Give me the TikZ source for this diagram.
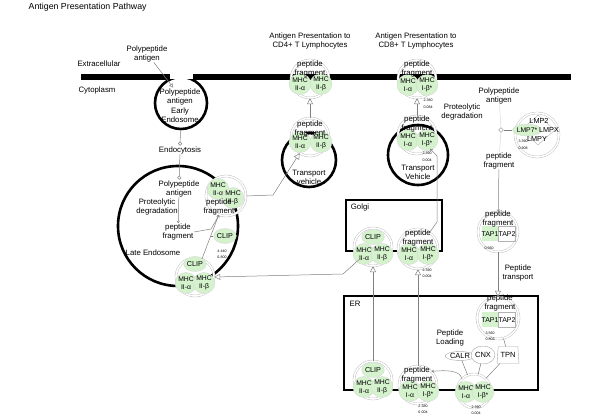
\documentclass[tikz,border=0pt]{standalone}
\usepackage{fontspec}
\setmainfont{Liberation Sans}
\usepackage{tikz}
\usetikzlibrary{arrows.meta}
\usetikzlibrary{shapes.geometric}
\definecolor{genegreen}{RGB}{212,242,204}

\begin{document}
\begin{tikzpicture}[x=1pt, y=-1pt,
    lbl/.style={align=center, font=\fontsize{7.8}{9}\selectfont, inner sep=0.5pt},
    num/.style={align=center, font=\fontsize{3.6}{6.5}\selectfont, inner sep=0pt},
    wall/.style={line width=2.6pt},
    cplx/.style={circle, draw=gray!55, double, double distance=1.6pt, inner sep=0pt, minimum size=#1},
    cplx/.default=38pt,
    gene/.style={ellipse, fill=genegreen, draw=gray!30, inner sep=0pt, minimum width=13pt, minimum height=21pt, align=center, font=\fontsize{6.8}{8}\selectfont},
    clipg/.style={ellipse, fill=genegreen, draw=gray!30, inner sep=0pt, minimum width=15pt, minimum height=15pt, font=\fontsize{7.2}{8}\selectfont},
    tapg/.style={rectangle, inner sep=0pt, minimum width=17pt, minimum height=15pt, font=\fontsize{7}{8}\selectfont},
    prot/.style={ellipse, draw=gray!70, fill=white, inner sep=0.5pt, font=\fontsize{7.5}{8}\selectfont},
    conn/.style={draw=gray, line width=0.5pt},
    tri/.style={conn, -{Triangle[open, length=6pt, width=6pt]}},
    tip/.style={conn, -{To[length=2.5pt, width=3pt]}}]

    \useasboundingbox (0,0) rectangle (600,419);

    \node[lbl, anchor=west, font=\fontsize{8.8}{10}\selectfont] (title) at (28, 7) {Antigen Presentation Pathway};

    % membrane and compartments
    \draw[line width=5.5pt] (81,77) -- (170,77);
    \draw[line width=5.5pt] (193,77) -- (571,77);
    \begin{scope}
      \clip (140,80) rectangle (230,140);
      \node[circle, draw, wall, inner sep=0pt, minimum size=52pt] (ee) at (181, 103) {};
    \end{scope}
    \node[circle, draw, wall, inner sep=0pt, minimum size=120pt] (le)  at (178, 226) {};
    \node[circle, draw, wall, inner sep=0pt, minimum size=54pt]  (tv1) at (309, 160) {};
    \node[circle, draw, wall, inner sep=0pt, minimum size=60pt]  (tv2) at (418, 155) {};
    \draw[wall] (346,200) rectangle (442,251);
    \draw[wall] (344,296) rectangle (538,390);

    \node[lbl]   (ext)    at (99, 64)      {Extracellular};
    \node[lbl]   (cyto)   at (97, 90)      {Cytoplasm};
    \node[lbl]   (ppa0)   at (147, 53.5)   {Polypeptide\\antigen};
    \node[lbl]   (ppa1)   at (180, 96.5)   {Polypeptide\\antigen};
    \node[lbl]   (eelbl)  at (180, 115)    {Early\\Endosome};
    \node[lbl]   (endo)   at (180, 150)    {Endocytosis};
    \node[lbl]   (ppa2)   at (179, 188.5)  {Polypeptide\\antigen};
    \node[lbl]   (prot1)  at (157, 206.5)  {Proteolytic\\degradation};
    \node[lbl]   (pf1)    at (178, 232)    {peptide\\fragment};
    \node[lbl]   (lelbl)  at (153, 253)    {Late Endosome};
    \node[clipg] (clip1)  at (225, 236)    {CLIP};
    \node[num]            at (222, 254.5)  {4.440\\0.800};
    \node[lbl]   (tvlbl1) at (309, 177)    {Transport\\vehicle};
    \node[lbl]   (tvlbl2) at (418, 172)    {Transport\\Vehicle};
    \node[lbl]   (cd4lbl) at (310, 41)     {Antigen Presentation to\\CD4+ T Lymphocytes};
    \node[lbl]   (cd8lbl) at (416, 41)     {Antigen Presentation to\\CD8+ T Lymphocytes};
    \node[lbl]   (golgi)  at (360, 207)    {Golgi};
    \node[lbl]   (erlbl)  at (355, 304)    {ER};
    \node[lbl]   (ppa3)   at (499, 95.5)   {Polypeptide\\antigen};
    \node[lbl]   (prot2)  at (462, 112)    {Proteolytic\\degradation};
    \node[lbl]   (pf2)    at (499, 160.5)  {peptide\\fragment};
    \node[lbl]   (trlbl)  at (518, 273)    {Peptide\\transport};
    \node[lbl]   (pl)     at (450, 338)    {Peptide\\Loading};

    % complexes
    \node[cplx=40pt] (cx1)  at (226, 196) {};
    \node[gene] at (218, 189) {MHC\\II-α};
    \node[gene] at (233, 198) {MHC\\II-β};
    \node[lbl]  at (219, 207) {peptide\\fragment};

    \node[cplx] (cx2)  at (195, 277) {};
    \node[clipg] at (195, 264) {CLIP};
    \node[gene] at (186, 283) {MHC\\II-α};
    \node[gene] at (204, 283) {MHC\\II-β};

    \node[cplx] (cx3)  at (310, 137) {};
    \node[gene] at (300, 142) {MHC\\II-α};
    \node[gene] at (321, 142) {MHC\\II-β};
    \node[lbl]  at (310, 129) {peptide\\fragment};

    \node[cplx] (cx4)  at (310, 79) {};
    \node[gene] at (300, 84) {MHC\\II-α};
    \node[gene] at (321, 84) {MHC\\II-β};
    \node[lbl]  at (310, 68.5) {peptide\\fragment};

    \node[cplx] (cx5)  at (417, 79) {};
    \node[gene] at (408, 85) {MHC\\I-α};
    \node[gene] at (427, 85) {MHC\\I-β*};
    \node[lbl]  at (417, 68.5) {peptide\\fragment};
    \node[num]  at (428, 104) {2.380\\0.084};

    \node[cplx] (cx6)  at (417, 135) {};
    \node[gene] at (408, 140) {MHC\\I-α};
    \node[gene] at (427, 140) {MHC\\I-β*};
    \node[lbl]  at (417, 124) {peptide\\fragment};
    \node[num]  at (427, 157) {2.390\\0.004};

    \node[cplx] (cx7)  at (373, 247) {};
    \node[clipg] at (373, 237) {CLIP};
    \node[gene] at (364, 254) {MHC\\II-α};
    \node[gene] at (382, 254) {MHC\\II-β};

    \node[cplx=40pt] (cx8)  at (418, 249) {};
    \node[gene] at (409, 254) {MHC\\I-α};
    \node[gene] at (428, 254) {MHC\\I-β*};
    \node[lbl]  at (418, 237.5) {peptide\\fragment};
    \node[num]  at (427, 273.5) {2.390\\0.004};

    \node[cplx] (cx9)  at (373, 380) {};
    \node[clipg] at (373, 370) {CLIP};
    \node[gene] at (364, 387) {MHC\\II-α};
    \node[gene] at (382, 387) {MHC\\II-β};

    \node[cplx] (cx10) at (418, 385) {};
    \node[gene] at (410, 391) {MHC\\I-α};
    \node[gene] at (428, 391) {MHC\\I-β*};
    \node[lbl]  at (417, 374.5) {peptide\\fragment};
    \node[num]  at (423, 409.5) {2.380\\0.004};

    \node[cplx=34pt] (cx11) at (474, 391) {};
    \node[gene] at (466, 392) {MHC\\I-α};
    \node[gene] at (483, 392) {MHC\\I-β*};
    \node[num]  at (476, 410.5) {2.390\\0.004};

    \node[cplx=42pt] (cx12) at (498, 318) {};
    \node[tapg, fill=genegreen] at (490, 320) {TAP1};
    \node[tapg, draw=gray!60]   at (507, 320) {TAP2};
    \node[lbl]  at (500, 302.5) {peptide\\fragment};
    \node[num]  at (490, 336.5) {3.560\\0.803};

    \node[cplx=40pt] (cx13) at (498, 232) {};
    \node[tapg, fill=genegreen] at (490, 234) {TAP1};
    \node[tapg, draw=gray!60]   at (507, 234) {TAP2};
    \node[lbl]  at (498, 218.5) {peptide\\fragment};
    \node[num]  at (489, 248) {0.560};

    \node[cplx=44pt] (cx14) at (537, 135) {};
    \node[diamond, draw=gray!60, inner sep=0pt, minimum width=34pt, minimum height=30pt] at (538, 130) {};
    \node[gene, minimum width=15pt, minimum height=12pt] (lmp7) at (527, 130) {LMP7*};
    \node[lbl, font=\fontsize{7.3}{8}\selectfont]  at (539, 121) {LMP2};
    \node[lbl, font=\fontsize{7.3}{8}\selectfont]  at (549, 130) {LMPX};
    \node[lbl, font=\fontsize{7.3}{8}\selectfont]  at (537, 139) {LMPY};
    \node[num]  at (523, 145) {3.390\\0.908};

    \node[diamond, draw=gray, fill=white, inner sep=0pt, minimum size=5pt] (dmd) at (501, 130) {};

    % ER chaperones
    \node[prot, minimum width=24pt] (calr) at (460, 356) {CALR};
    \node[prot, minimum height=18pt] (cnx) at (483, 355) {CNX};
    \node[trapezium, trapezium stretches=true, draw=gray!70, inner sep=0pt, minimum width=22pt, minimum height=17pt, trapezium left angle=80, trapezium right angle=80, font=\fontsize{7.5}{8}\selectfont] (tpn) at (508, 355) {TPN};

    % connectors
    \draw[conn, -{Triangle[open, length=4pt, width=4pt]}] (ppa0) -- (ppa1);
    \draw[conn, -{Circle[open, length=4pt]}] (ee) -- (endo);
    \draw[conn, -{Circle[open, length=4pt]}] (endo) -- (ppa2);
    \draw[tip] (ppa2) -- (pf1);
    \draw[tip] (pf1.east) -- (211,229) -- (cx1.250);
    \coordinate (m1) at (211, 236);
    \draw[tip] (cx2) -- (cx1);
    \draw[conn] (clip1) -- (m1);
    \draw[tri] (cx1.east) -- (273,195) -- (cx3);
    \draw[tri] (cx3) -- (cx4);
    \draw[tri] (cx6) -- (cx5);
    \draw[tri] (cx7) -- (343,274) -- (cx2.east);
    \draw[tip] (cx8) -- (437,222) -- (437,156) -- (cx6);
    \draw[tri] (cx9) -- (cx7);
    \draw[tri] (cx10) -- (cx8);
    \draw[tip] (cx11.north west) .. controls (460,370) and (446,370) .. (cx10.north east);
    \draw[conn] (calr) -- (cx11);
    \draw[conn] (cnx) -- (cx11);
    \draw[conn] (tpn) -- (cx11);
    \draw[conn] (cx12) -- (tpn);
    \draw[tri] (cx13) -- (cx12);
    \draw[tip] (pf2) -- (cx13);
    \draw[conn, draw=gray!30] (ppa3) -- (dmd);
    \draw[conn, draw=gray!30] (dmd) -- (pf2);
    \draw[conn] (dmd) -- (lmp7);
  \end{tikzpicture}
\end{document}
